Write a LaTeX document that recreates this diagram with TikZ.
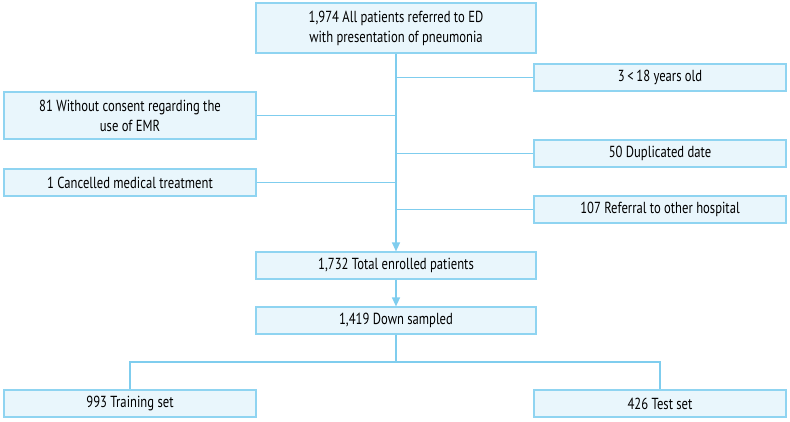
\documentclass[tikz,border=0pt]{standalone}
\usepackage{fontspec}
\setmainfont{PT Sans}[FakeStretch=0.79]
\usetikzlibrary{arrows.meta}
\definecolor{boxfill}{HTML}{E9F6FC}
\definecolor{boxline}{HTML}{8FD4F1}
\definecolor{flowline}{HTML}{7FCDEE}
\tikzset{
  flowbox/.style={
    draw=boxline, fill=boxfill, line width=1.2pt, inner sep=0pt,
    minimum width=252pt, minimum height=27pt, align=center,
    font=\fontsize{16}{20}\selectfont
  },
  mainbox/.style={
    flowbox, minimum width=280pt
  },
  flow/.style={
    draw=flowline, line width=1.3pt
  },
  flow arrow/.style={
    flow, -{Triangle[width=8pt,length=9pt]}
  }
}
\begin{document}
\begin{tikzpicture}[x=1pt,y=-1pt]
\useasboundingbox (0,0) rectangle (790,422);

% ---------------------------
% main column
% ---------------------------
\node[mainbox, minimum height=50pt] (all) at (396,28)
  {1,974 All patients referred to ED\\with presentation of pneumonia};
\node[mainbox] (enrolled) at (396,265.5) {1,732 Total enrolled patients};
\node[mainbox] (down) at (396,320.5) {1,419 Down sampled};

% ---------------------------
% exclusions
% ---------------------------
\node[flowbox] (young) at (660,77.5) {3\,<\,18 years old};
\node[flowbox, minimum height=47pt] (consent) at (130,115.5)
  {81 Without consent regarding the\\use of EMR};
\node[flowbox] (dup) at (660,153.5) {50 Duplicated date};
\node[flowbox] (cancel) at (130,182.5) {1 Cancelled medical treatment};
\node[flowbox] (referral) at (660,209.5) {107 Referral to other hospital};

% ---------------------------
% split
% ---------------------------
\node[flowbox] (train) at (130,403.5) {993 Training set};
\node[flowbox] (test) at (660,403.5) {426 Test set};
\coordinate (fork) at (396,362);

\draw[flow arrow] (all.south) -- (enrolled.north);
\draw[flow arrow] (enrolled.south) -- (down.north);
\foreach \ex in {young, consent, dup, cancel, referral}
  \draw[flow] (\ex) -- (\ex -| all.south);

\draw[flow] (down.south) -- (fork);
\draw[flow] (fork) -| (train.north);
\draw[flow] (fork) -| (test.north);

\end{tikzpicture}
\end{document}
